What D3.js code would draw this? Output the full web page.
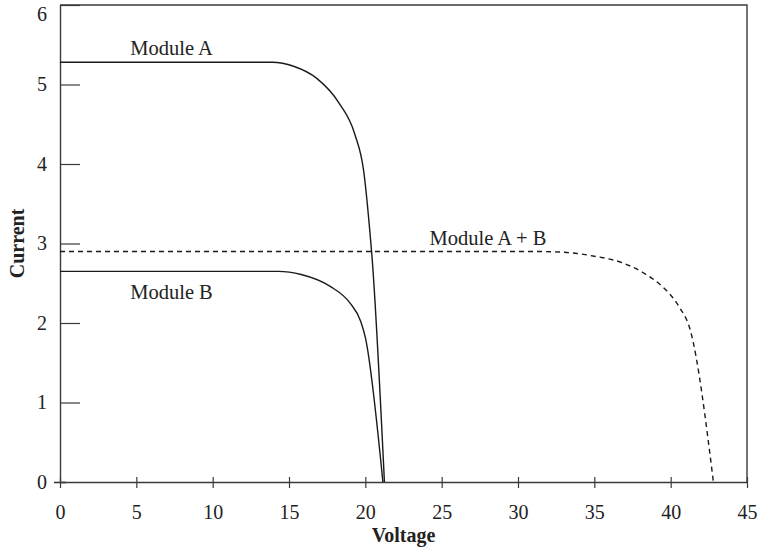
<!DOCTYPE html>
<html><head><meta charset="utf-8">
<script src="https://cdn.jsdelivr.net/npm/d3@7"></script>
<style>body{margin:0;background:#fff}</style>
</head><body>
<svg id="c" width="765" height="555"></svg>
<script>
// Data
const moduleA_V = [0, 13.9, 15.3, 16.8, 18.3, 19.3, 19.9, 20.25, 20.45, 21.25];
const moduleA_I = [5.28, 5.28, 5.23, 5.08, 4.76, 4.38, 3.9, 3.25, 2.8, 0];
const moduleB_V = [0, 14.3, 15.8, 17.7, 19.0, 19.7, 20.0, 21.15];
const moduleB_I = [2.65, 2.65, 2.61, 2.46, 2.25, 2.02, 1.82, 0];
const moduleAB_V = [0, 31, 33, 35, 36.8, 38.3, 39.5, 40.5, 41.3, 42.8];
const moduleAB_I = [2.9, 2.9, 2.89, 2.84, 2.76, 2.62, 2.45, 2.22, 1.9, 0];
const xTicks = [0, 5, 10, 15, 20, 25, 30, 35, 40, 45];
const yTicks = [0, 1, 2, 3, 4, 5, 6];
const seriesLabels = ["Module A", "Module B", "Module A + B"];

const svg = d3.select("#c");
const L = 60, R = 747, T = 5, B = 482;
const x = d3.scaleLinear().domain([0, 45]).range([L, R]);
const y = d3.scaleLinear().domain([0, 6]).range([B, T]);
const font = "'Liberation Serif', 'Times New Roman', serif";
const axisColor = "#3a3a3a";
const textColor = "#222";

// frame (top & right)
svg.append("path")
  .attr("d", `M${x(0)},${y(6)}H${x(45)}V${y(0)}`)
  .attr("fill", "none").attr("stroke", axisColor).attr("stroke-width", 1.4);

// x axis
const gx = svg.append("g").attr("transform", `translate(0,${B})`)
  .call(d3.axisBottom(x).tickValues(xTicks).tickFormat(d3.format("d")).tickSize(6).tickPadding(17).tickSizeOuter(0));
gx.selectAll(".tick line").attr("y1", -5).attr("stroke", axisColor).attr("stroke-width", 1.2);
gx.select(".domain").attr("stroke", axisColor).attr("stroke-width", 1.4);
gx.selectAll("text").attr("font-family", font).attr("font-size", 20).attr("fill", textColor);

// y axis
const gy = svg.append("g").attr("transform", `translate(${L},0)`)
  .call(d3.axisLeft(y).tickValues(yTicks).tickFormat(d3.format("d")).tickSize(-20).tickPadding(13).tickSizeOuter(0));
gy.selectAll(".tick line").attr("stroke", axisColor).attr("stroke-width", 1.2);
gy.selectAll(".tick").filter(d => d === 0).select("line").attr("x1", -6).attr("x2", 6).attr("stroke-width", 1.6);
gy.selectAll(".tick").filter(d => d === 6).select("text").attr("y", 9);
gy.select(".domain").attr("stroke", axisColor).attr("stroke-width", 1.4);
gy.selectAll("text").attr("font-family", font).attr("font-size", 20).attr("fill", textColor);

// axis titles
svg.append("text").attr("x", (L + R) / 2).attr("y", 542).attr("text-anchor", "middle")
  .attr("font-family", font).attr("font-weight", "bold").attr("font-size", 20).attr("fill", textColor)
  .text("Voltage");
svg.append("text").attr("transform", `translate(24,${(T + B) / 2}) rotate(-90)`).attr("text-anchor", "middle")
  .attr("font-family", font).attr("font-weight", "bold").attr("font-size", 20).attr("fill", textColor)
  .text("Current");

const line = d3.line().x(d => x(d[0])).y(d => y(d[1])).curve(d3.curveMonotoneX);
const zip = (a, b) => a.map((v, i) => [v, b[i]]);

svg.append("path").datum(zip(moduleA_V, moduleA_I)).attr("d", line)
  .attr("fill", "none").attr("stroke", "#1a1a1a").attr("stroke-width", 1.4);
svg.append("path").datum(zip(moduleB_V, moduleB_I)).attr("d", line)
  .attr("fill", "none").attr("stroke", "#1a1a1a").attr("stroke-width", 1.4);
svg.append("path").datum(zip(moduleAB_V, moduleAB_I)).attr("d", line)
  .attr("fill", "none").attr("stroke", "#1a1a1a").attr("stroke-width", 1.4)
  .attr("stroke-dasharray", "5,4");

// curve labels
const labelPos = [[4.6, 5.37], [4.6, 2.3], [24.2, 2.98]];
seriesLabels.forEach((t, i) => {
  svg.append("text").attr("x", x(labelPos[i][0])).attr("y", y(labelPos[i][1]))
    .attr("font-family", font).attr("font-size", 20.5).attr("fill", textColor).text(t);
});
</script>
</body></html>
